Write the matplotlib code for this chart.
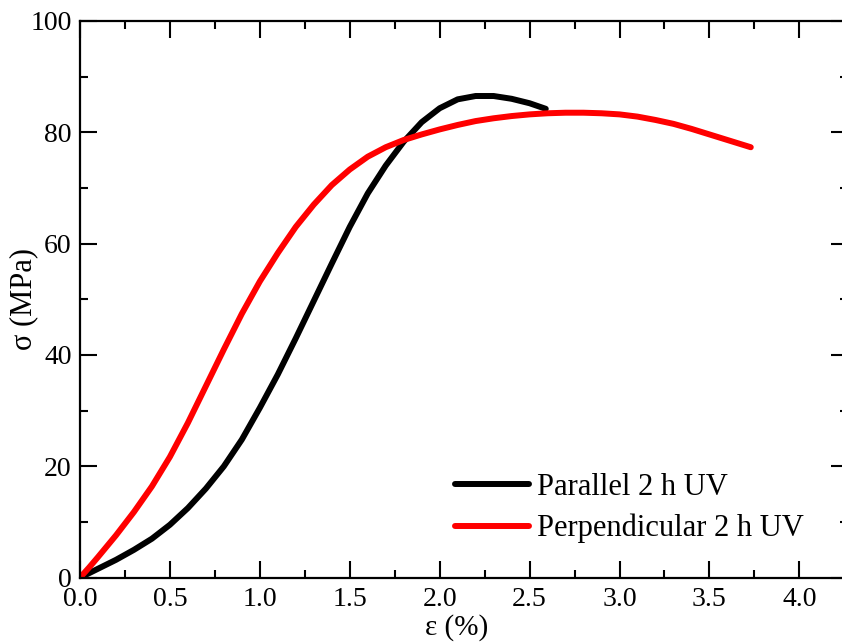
#!/usr/bin/env python
# -*- coding: utf-8 -*-

import matplotlib.pyplot as plt
import numpy as np

plt.rcParams['font.family'] = ['Liberation Serif', 'DejaVu Serif']

# Parallel 2 h UV
par_x = [0, 0.05, 0.1, 0.2, 0.3, 0.4, 0.5, 0.6, 0.7, 0.8, 0.9, 1.0, 1.1, 1.2, 1.3,
         1.4, 1.5, 1.6, 1.7, 1.8, 1.9, 2.0, 2.1, 2.2, 2.3, 2.4, 2.5, 2.59]
par_y = [0, 0.8, 1.6, 3.2, 5.0, 7.0, 9.5, 12.5, 16.0, 20.0, 24.8, 30.5, 36.5, 43.0, 49.7,
         56.4, 63.0, 69.0, 74.0, 78.3, 81.8, 84.3, 85.9, 86.5, 86.5, 86.0, 85.2, 84.2]

# Perpendicular 2 h UV
perp_x = [0, 0.05, 0.1, 0.2, 0.3, 0.4, 0.5, 0.6, 0.7, 0.8, 0.9, 1.0, 1.1, 1.2, 1.3,
          1.4, 1.5, 1.6, 1.7, 1.8, 1.9, 2.0, 2.1, 2.2, 2.3, 2.4, 2.5, 2.6, 2.7, 2.8,
          2.9, 3.0, 3.1, 3.2, 3.3, 3.4, 3.5, 3.6, 3.73]
perp_y = [0, 1.8, 3.7, 7.6, 11.8, 16.4, 21.7, 27.8, 34.4, 41.0, 47.4, 53.2, 58.3, 63.0, 67.0,
          70.5, 73.3, 75.6, 77.3, 78.6, 79.6, 80.5, 81.3, 82.0, 82.5, 82.9, 83.2, 83.4, 83.5, 83.5,
          83.4, 83.2, 82.8, 82.2, 81.5, 80.6, 79.6, 78.6, 77.3]

fig = plt.figure(figsize=(8.42, 6.43), dpi=100)
ax = fig.add_axes([0.095, 0.1016, 0.912, 0.866])

ax.plot(par_x, par_y, color='black', lw=4.3, solid_capstyle='round', label='Parallel 2 h UV')
ax.plot(perp_x, perp_y, color='red', lw=4.3, solid_capstyle='round', label='Perpendicular 2 h UV')

ax.set_xlim(0, 4.27)
ax.set_ylim(0, 100)
ax.set_xticks(np.arange(0, 4.01, 0.5))
ax.set_xticks(np.arange(0.25, 4.3, 0.5), minor=True)
ax.set_yticks(np.arange(0, 101, 20))
ax.set_yticks(np.arange(10, 100, 20), minor=True)
ax.set_xticklabels(['%.1f' % v for v in np.arange(0, 4.01, 0.5)])

ax.tick_params(which='both', direction='in', top=True, right=True, width=1.5,
               labelsize=20)
ax.tick_params(axis='x', pad=7)
ax.tick_params(axis='y', pad=6)
ax.tick_params(which='major', length=12)
ax.tick_params(which='minor', length=6)
for s in ax.spines.values():
    s.set_linewidth(1.6)

ax.set_xlabel('ε (%)', fontsize=21)
ax.set_ylabel('σ (MPa)', fontsize=22)
ax.xaxis.set_label_coords(0.49, -0.066)
ax.yaxis.set_label_coords(-0.055, 0.5)

ax.legend(loc='lower left', bbox_to_anchor=(0.452, 0.012), frameon=False, fontsize=22,
          handlelength=2.45, handletextpad=0.25, labelspacing=0.4)

plt.savefig('out.png', dpi=100)
